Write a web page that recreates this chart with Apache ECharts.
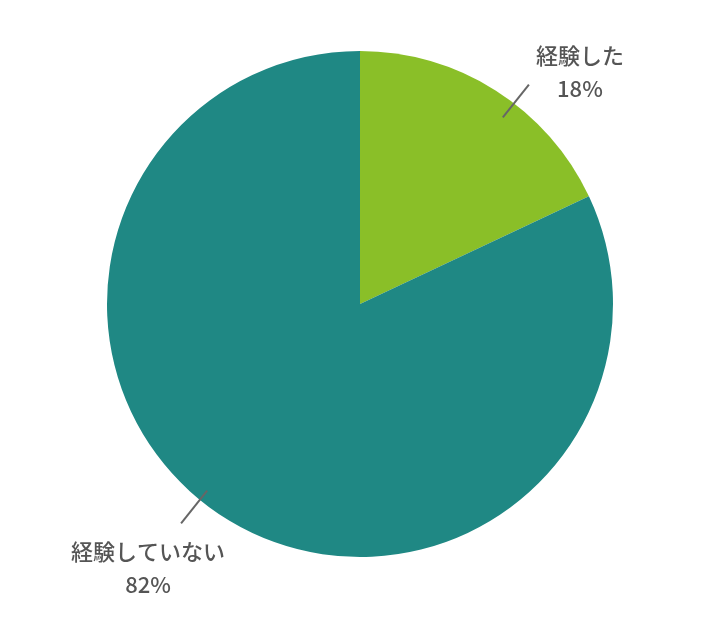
<!DOCTYPE html>
<html>
<head>
<meta charset="utf-8">
<script src="https://cdn.jsdelivr.net/npm/echarts@6/dist/echarts.min.js"></script>
<style>
html,body{margin:0;padding:0;background:#fff;}
#chart{width:710px;height:630px;}
</style>
</head>
<body>
<div id="chart"></div>
<script>
var categories = ['経験した', '経験していない'];
var values = [18, 82];
var colors = ['#8abf28', '#1f8884'];

var chart = echarts.init(document.getElementById('chart'));

var pieData = categories.map(function(name, i){
	return {name: name, value: values[i], itemStyle: {color: colors[i]}};
});

// label shifts from the guide line end (top label / bottom label)
var labelShift = [{dx: 45, dy: -12}, {dx: -27, dy: 45}];

var option = {
	animation: false,
	series: [
		{
			type: 'pie',
			center: [360, 304],
			radius: 253,
			startAngle: 90,
			clockwise: true,
			silent: true,
			label: {show: false},
			labelLine: {show: false},
			data: pieData
		},
		{
			// label carrier, slightly rotated so the guide lines sit like the original
			type: 'pie',
			z: 5,
			center: [355, 304],
			radius: 238,
			startAngle: 84,
			clockwise: true,
			silent: true,
			itemStyle: {color: 'transparent'},
			label: {
				show: true,
				position: 'outside',
				formatter: '{b}\n{d}%',
				color: '#555',
				fontSize: 22,
				fontWeight: 500,
				lineHeight: 33,
				fontFamily: '"Noto Sans CJK JP", "Noto Sans", sans-serif',
				distanceToLabelLine: 6
			},
			labelLine: {
				show: true,
				length: 42,
				length2: 0,
				lineStyle: {color: '#666', width: 2}
			},
			labelLayout: function(p){
				var s = labelShift[p.dataIndex];
				return {
					dx: s.dx,
					dy: s.dy,
					align: 'center',
					verticalAlign: 'middle',
					labelLinePoints: p.labelLinePoints
				};
			},
			data: categories.map(function(name, i){
				return {name: name, value: values[i]};
			})
		}
	]
};
chart.setOption(option);
</script>
</body>
</html>
